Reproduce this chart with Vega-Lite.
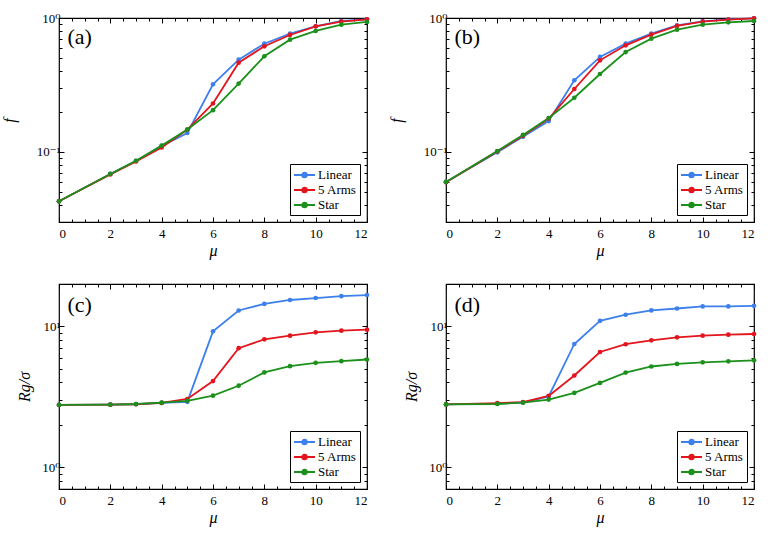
{
  "$schema": "https://vega.github.io/schema/vega-lite/v6.json",
  "padding": {"left": 0, "top": 11, "right": 5, "bottom": 5},
  "background": "white",
  "bounds": "flush",
  "columns": 2,
  "spacing": {"row": 62, "column": 79},
  "datasets": {
    "a": [
      {"mu": 0, "s": "Linear", "v": 0.0428}, {"mu": 2, "s": "Linear", "v": 0.0685}, {"mu": 3, "s": "Linear", "v": 0.0857}, {"mu": 4, "s": "Linear", "v": 0.111}, {"mu": 5, "s": "Linear", "v": 0.1386}, {"mu": 6, "s": "Linear", "v": 0.32}, {"mu": 7, "s": "Linear", "v": 0.489}, {"mu": 8, "s": "Linear", "v": 0.643}, {"mu": 9, "s": "Linear", "v": 0.764}, {"mu": 10, "s": "Linear", "v": 0.867}, {"mu": 11, "s": "Linear", "v": 0.95}, {"mu": 12, "s": "Linear", "v": 0.977},
      {"mu": 0, "s": "5 Arms", "v": 0.0428}, {"mu": 2, "s": "5 Arms", "v": 0.068}, {"mu": 3, "s": "5 Arms", "v": 0.085}, {"mu": 4, "s": "5 Arms", "v": 0.108}, {"mu": 5, "s": "5 Arms", "v": 0.147}, {"mu": 6, "s": "5 Arms", "v": 0.23}, {"mu": 7, "s": "5 Arms", "v": 0.464}, {"mu": 8, "s": "5 Arms", "v": 0.615}, {"mu": 9, "s": "5 Arms", "v": 0.747}, {"mu": 10, "s": "5 Arms", "v": 0.867}, {"mu": 11, "s": "5 Arms", "v": 0.94}, {"mu": 12, "s": "5 Arms", "v": 0.977},
      {"mu": 0, "s": "Star", "v": 0.0428}, {"mu": 2, "s": "Star", "v": 0.0685}, {"mu": 3, "s": "Star", "v": 0.086}, {"mu": 4, "s": "Star", "v": 0.1115}, {"mu": 5, "s": "Star", "v": 0.147}, {"mu": 6, "s": "Star", "v": 0.205}, {"mu": 7, "s": "Star", "v": 0.324}, {"mu": 8, "s": "Star", "v": 0.518}, {"mu": 9, "s": "Star", "v": 0.689}, {"mu": 10, "s": "Star", "v": 0.8}, {"mu": 11, "s": "Star", "v": 0.892}, {"mu": 12, "s": "Star", "v": 0.934}
    ],
    "b": [
      {"mu": 0, "s": "Linear", "v": 0.0597}, {"mu": 2, "s": "Linear", "v": 0.0994}, {"mu": 3, "s": "Linear", "v": 0.13}, {"mu": 4, "s": "Linear", "v": 0.17}, {"mu": 5, "s": "Linear", "v": 0.343}, {"mu": 6, "s": "Linear", "v": 0.512}, {"mu": 7, "s": "Linear", "v": 0.643}, {"mu": 8, "s": "Linear", "v": 0.764}, {"mu": 9, "s": "Linear", "v": 0.882}, {"mu": 10, "s": "Linear", "v": 0.944}, {"mu": 11, "s": "Linear", "v": 0.977}, {"mu": 12, "s": "Linear", "v": 0.994},
      {"mu": 0, "s": "5 Arms", "v": 0.0594}, {"mu": 2, "s": "5 Arms", "v": 0.101}, {"mu": 3, "s": "5 Arms", "v": 0.132}, {"mu": 4, "s": "5 Arms", "v": 0.177}, {"mu": 5, "s": "5 Arms", "v": 0.295}, {"mu": 6, "s": "5 Arms", "v": 0.483}, {"mu": 7, "s": "5 Arms", "v": 0.625}, {"mu": 8, "s": "5 Arms", "v": 0.751}, {"mu": 9, "s": "5 Arms", "v": 0.872}, {"mu": 10, "s": "5 Arms", "v": 0.939}, {"mu": 11, "s": "5 Arms", "v": 0.972}, {"mu": 12, "s": "5 Arms", "v": 0.994},
      {"mu": 0, "s": "Star", "v": 0.0597}, {"mu": 2, "s": "Star", "v": 0.1017}, {"mu": 3, "s": "Star", "v": 0.134}, {"mu": 4, "s": "Star", "v": 0.179}, {"mu": 5, "s": "Star", "v": 0.254}, {"mu": 6, "s": "Star", "v": 0.382}, {"mu": 7, "s": "Star", "v": 0.557}, {"mu": 8, "s": "Star", "v": 0.701}, {"mu": 9, "s": "Star", "v": 0.818}, {"mu": 10, "s": "Star", "v": 0.892}, {"mu": 11, "s": "Star", "v": 0.928}, {"mu": 12, "s": "Star", "v": 0.95}
    ],
    "c": [
      {"mu": 0, "s": "Linear", "v": 2.77}, {"mu": 2, "s": "Linear", "v": 2.78}, {"mu": 3, "s": "Linear", "v": 2.8}, {"mu": 4, "s": "Linear", "v": 2.86}, {"mu": 5, "s": "Linear", "v": 2.91}, {"mu": 6, "s": "Linear", "v": 9.22}, {"mu": 7, "s": "Linear", "v": 12.97}, {"mu": 8, "s": "Linear", "v": 14.45}, {"mu": 9, "s": "Linear", "v": 15.4}, {"mu": 10, "s": "Linear", "v": 15.9}, {"mu": 11, "s": "Linear", "v": 16.4}, {"mu": 12, "s": "Linear", "v": 16.7},
      {"mu": 0, "s": "5 Arms", "v": 2.77}, {"mu": 2, "s": "5 Arms", "v": 2.78}, {"mu": 3, "s": "5 Arms", "v": 2.8}, {"mu": 4, "s": "5 Arms", "v": 2.86}, {"mu": 5, "s": "5 Arms", "v": 3.05}, {"mu": 6, "s": "5 Arms", "v": 4.09}, {"mu": 7, "s": "5 Arms", "v": 7.0}, {"mu": 8, "s": "5 Arms", "v": 8.09}, {"mu": 9, "s": "5 Arms", "v": 8.59}, {"mu": 10, "s": "5 Arms", "v": 9.08}, {"mu": 11, "s": "5 Arms", "v": 9.32}, {"mu": 12, "s": "5 Arms", "v": 9.47},
      {"mu": 0, "s": "Star", "v": 2.77}, {"mu": 2, "s": "Star", "v": 2.78}, {"mu": 3, "s": "Star", "v": 2.81}, {"mu": 4, "s": "Star", "v": 2.87}, {"mu": 5, "s": "Star", "v": 2.96}, {"mu": 6, "s": "Star", "v": 3.22}, {"mu": 7, "s": "Star", "v": 3.79}, {"mu": 8, "s": "Star", "v": 4.71}, {"mu": 9, "s": "Star", "v": 5.22}, {"mu": 10, "s": "Star", "v": 5.51}, {"mu": 11, "s": "Star", "v": 5.66}, {"mu": 12, "s": "Star", "v": 5.82}
    ],
    "d": [
      {"mu": 0, "s": "Linear", "v": 2.79}, {"mu": 2, "s": "Linear", "v": 2.83}, {"mu": 3, "s": "Linear", "v": 2.88}, {"mu": 4, "s": "Linear", "v": 3.18}, {"mu": 5, "s": "Linear", "v": 7.5}, {"mu": 6, "s": "Linear", "v": 10.96}, {"mu": 7, "s": "Linear", "v": 12.1}, {"mu": 8, "s": "Linear", "v": 12.98}, {"mu": 9, "s": "Linear", "v": 13.4}, {"mu": 10, "s": "Linear", "v": 13.85}, {"mu": 11, "s": "Linear", "v": 13.85}, {"mu": 12, "s": "Linear", "v": 14.0},
      {"mu": 0, "s": "5 Arms", "v": 2.79}, {"mu": 2, "s": "5 Arms", "v": 2.85}, {"mu": 3, "s": "5 Arms", "v": 2.9}, {"mu": 4, "s": "5 Arms", "v": 3.21}, {"mu": 5, "s": "5 Arms", "v": 4.48}, {"mu": 6, "s": "5 Arms", "v": 6.58}, {"mu": 7, "s": "5 Arms", "v": 7.47}, {"mu": 8, "s": "5 Arms", "v": 7.96}, {"mu": 9, "s": "5 Arms", "v": 8.36}, {"mu": 10, "s": "5 Arms", "v": 8.59}, {"mu": 11, "s": "5 Arms", "v": 8.73}, {"mu": 12, "s": "5 Arms", "v": 8.83},
      {"mu": 0, "s": "Star", "v": 2.79}, {"mu": 2, "s": "Star", "v": 2.81}, {"mu": 3, "s": "Star", "v": 2.87}, {"mu": 4, "s": "Star", "v": 3.02}, {"mu": 5, "s": "Star", "v": 3.37}, {"mu": 6, "s": "Star", "v": 3.97}, {"mu": 7, "s": "Star", "v": 4.7}, {"mu": 8, "s": "Star", "v": 5.19}, {"mu": 9, "s": "Star", "v": 5.41}, {"mu": 10, "s": "Star", "v": 5.56}, {"mu": 11, "s": "Star", "v": 5.65}, {"mu": 12, "s": "Star", "v": 5.74}
    ]
  },
  "concat": [
    {
      "width": 308, "height": 204,
      "data": {"name": "a"},
      "layer": [
        {"mark": {"type": "line", "strokeWidth": 1.8},
         "encoding": {
           "x": {"field": "mu", "type": "quantitative", "scale": {"domain": [0, 12], "nice": false, "zero": false}, "axis": {"orient": "bottom", "values": [0, 2, 4, 6, 8, 10, 12], "tickSize": -5, "title": "μ", "format": "d", "labelPadding": 10, "titlePadding": 2}},
           "y": {"field": "v", "type": "quantitative", "scale": {"type": "log", "domain": [0.03, 1], "nice": false}, "axis": {"orient": "left", "values": [0.1, 1], "tickSize": -5, "labelExpr": "datum.value == 1 ? '10⁰' : '10⁻¹'", "title": "f", "titleX": -45, "titleBaseline": "alphabetic"}},
           "color": {"field": "s", "type": "nominal", "scale": {"domain": ["Linear", "5 Arms", "Star"], "range": ["#3d80ec", "#e3141b", "#1b901b"]}, "legend": {"title": null}}
         }},
        {"mark": {"type": "point", "filled": true, "size": 22, "opacity": 1},
         "encoding": {"x": {"field": "mu", "type": "quantitative", "axis": null}, "y": {"field": "v", "type": "quantitative", "axis": null}, "color": {"field": "s", "type": "nominal"}}},
        {"data": {"values": [{"lab": "(a)"}]},
         "mark": {"type": "text", "font": "Liberation Serif, DejaVu Serif, serif", "fontSize": 22, "align": "left", "baseline": "alphabetic"},
         "encoding": {"text": {"field": "lab"}, "x": {"datum": 0.33, "type": "quantitative", "axis": null}, "y": {"datum": 0.64, "type": "quantitative", "axis": null}}},
        {"mark": {"type": "point", "opacity": 0},
         "encoding": {"x": {"field": "mu", "type": "quantitative", "axis": {"orient": "bottom", "values": [0.5, 1, 1.5, 2.5, 3, 3.5, 4.5, 5, 5.5, 6.5, 7, 7.5, 8.5, 9, 9.5, 10.5, 11, 11.5], "tickSize": -3, "labels": false, "title": null}},
                      "y": {"field": "v", "type": "quantitative", "axis": {"orient": "left", "values": [0.03, 0.04, 0.05, 0.06, 0.07, 0.08, 0.09, 0.2, 0.3, 0.4, 0.5, 0.6, 0.7, 0.8, 0.9], "tickSize": -3, "labels": false, "title": null}}}},
        {"mark": {"type": "point", "opacity": 0},
         "encoding": {"x": {"field": "mu", "type": "quantitative", "axis": {"orient": "top", "values": [0, 2, 4, 6, 8, 10, 12], "tickSize": -5, "labels": false, "title": null}},
                      "y": {"field": "v", "type": "quantitative", "axis": {"orient": "right", "values": [0.1, 1], "tickSize": -5, "labels": false, "title": null}}}},
        {"mark": {"type": "point", "opacity": 0},
         "encoding": {"x": {"field": "mu", "type": "quantitative", "axis": {"orient": "top", "values": [0.5, 1, 1.5, 2.5, 3, 3.5, 4.5, 5, 5.5, 6.5, 7, 7.5, 8.5, 9, 9.5, 10.5, 11, 11.5], "tickSize": -3, "labels": false, "title": null}},
                      "y": {"field": "v", "type": "quantitative", "axis": {"orient": "right", "values": [0.03, 0.04, 0.05, 0.06, 0.07, 0.08, 0.09, 0.2, 0.3, 0.4, 0.5, 0.6, 0.7, 0.8, 0.9], "tickSize": -3, "labels": false, "title": null}}}}
      ],
      "resolve": {"axis": {"x": "independent", "y": "independent"}}
    },
    {
      "width": 308, "height": 204,
      "data": {"name": "b"},
      "layer": [
        {"mark": {"type": "line", "strokeWidth": 1.8},
         "encoding": {
           "x": {"field": "mu", "type": "quantitative", "scale": {"domain": [0, 12], "nice": false, "zero": false}, "axis": {"orient": "bottom", "values": [0, 2, 4, 6, 8, 10, 12], "tickSize": -5, "title": "μ", "format": "d", "labelPadding": 10, "titlePadding": 2}},
           "y": {"field": "v", "type": "quantitative", "scale": {"type": "log", "domain": [0.03, 1], "nice": false}, "axis": {"orient": "left", "values": [0.1, 1], "tickSize": -5, "labelExpr": "datum.value == 1 ? '10⁰' : '10⁻¹'", "title": "f", "titleX": -45, "titleBaseline": "alphabetic"}},
           "color": {"field": "s", "type": "nominal", "scale": {"domain": ["Linear", "5 Arms", "Star"], "range": ["#3d80ec", "#e3141b", "#1b901b"]}, "legend": {"title": null}}
         }},
        {"mark": {"type": "point", "filled": true, "size": 22, "opacity": 1},
         "encoding": {"x": {"field": "mu", "type": "quantitative", "axis": null}, "y": {"field": "v", "type": "quantitative", "axis": null}, "color": {"field": "s", "type": "nominal"}}},
        {"data": {"values": [{"lab": "(b)"}]},
         "mark": {"type": "text", "font": "Liberation Serif, DejaVu Serif, serif", "fontSize": 22, "align": "left", "baseline": "alphabetic"},
         "encoding": {"text": {"field": "lab"}, "x": {"datum": 0.33, "type": "quantitative", "axis": null}, "y": {"datum": 0.64, "type": "quantitative", "axis": null}}},
        {"mark": {"type": "point", "opacity": 0},
         "encoding": {"x": {"field": "mu", "type": "quantitative", "axis": {"orient": "bottom", "values": [0.5, 1, 1.5, 2.5, 3, 3.5, 4.5, 5, 5.5, 6.5, 7, 7.5, 8.5, 9, 9.5, 10.5, 11, 11.5], "tickSize": -3, "labels": false, "title": null}},
                      "y": {"field": "v", "type": "quantitative", "axis": {"orient": "left", "values": [0.03, 0.04, 0.05, 0.06, 0.07, 0.08, 0.09, 0.2, 0.3, 0.4, 0.5, 0.6, 0.7, 0.8, 0.9], "tickSize": -3, "labels": false, "title": null}}}},
        {"mark": {"type": "point", "opacity": 0},
         "encoding": {"x": {"field": "mu", "type": "quantitative", "axis": {"orient": "top", "values": [0, 2, 4, 6, 8, 10, 12], "tickSize": -5, "labels": false, "title": null}},
                      "y": {"field": "v", "type": "quantitative", "axis": {"orient": "right", "values": [0.1, 1], "tickSize": -5, "labels": false, "title": null}}}},
        {"mark": {"type": "point", "opacity": 0},
         "encoding": {"x": {"field": "mu", "type": "quantitative", "axis": {"orient": "top", "values": [0.5, 1, 1.5, 2.5, 3, 3.5, 4.5, 5, 5.5, 6.5, 7, 7.5, 8.5, 9, 9.5, 10.5, 11, 11.5], "tickSize": -3, "labels": false, "title": null}},
                      "y": {"field": "v", "type": "quantitative", "axis": {"orient": "right", "values": [0.03, 0.04, 0.05, 0.06, 0.07, 0.08, 0.09, 0.2, 0.3, 0.4, 0.5, 0.6, 0.7, 0.8, 0.9], "tickSize": -3, "labels": false, "title": null}}}}
      ],
      "resolve": {"axis": {"x": "independent", "y": "independent"}}
    },
    {
      "width": 308, "height": 205,
      "data": {"name": "c"},
      "layer": [
        {"mark": {"type": "line", "strokeWidth": 1.8},
         "encoding": {
           "x": {"field": "mu", "type": "quantitative", "scale": {"domain": [0, 12], "nice": false, "zero": false}, "axis": {"orient": "bottom", "values": [0, 2, 4, 6, 8, 10, 12], "tickSize": -5, "title": "μ", "format": "d", "labelPadding": 10, "titlePadding": 2}},
           "y": {"field": "v", "type": "quantitative", "scale": {"type": "log", "domain": [0.7, 20], "nice": false}, "axis": {"orient": "left", "values": [1, 10], "tickSize": -5, "labelExpr": "datum.value == 10 ? '10¹' : '10⁰'", "title": "Rg/σ", "titleX": -30, "titleBaseline": "alphabetic"}},
           "color": {"field": "s", "type": "nominal", "scale": {"domain": ["Linear", "5 Arms", "Star"], "range": ["#3d80ec", "#e3141b", "#1b901b"]}, "legend": {"title": null}}
         }},
        {"mark": {"type": "point", "filled": true, "size": 22, "opacity": 1},
         "encoding": {"x": {"field": "mu", "type": "quantitative", "axis": null}, "y": {"field": "v", "type": "quantitative", "axis": null}, "color": {"field": "s", "type": "nominal"}}},
        {"data": {"values": [{"lab": "(c)"}]},
         "mark": {"type": "text", "font": "Liberation Serif, DejaVu Serif, serif", "fontSize": 22, "align": "left", "baseline": "alphabetic"},
         "encoding": {"text": {"field": "lab"}, "x": {"datum": 0.33, "type": "quantitative", "axis": null}, "y": {"datum": 12.6, "type": "quantitative", "axis": null}}},
        {"mark": {"type": "point", "opacity": 0},
         "encoding": {"x": {"field": "mu", "type": "quantitative", "axis": {"orient": "bottom", "values": [0.5, 1, 1.5, 2.5, 3, 3.5, 4.5, 5, 5.5, 6.5, 7, 7.5, 8.5, 9, 9.5, 10.5, 11, 11.5], "tickSize": -3, "labels": false, "title": null}},
                      "y": {"field": "v", "type": "quantitative", "axis": {"orient": "left", "values": [0.8, 0.9, 2, 3, 4, 5, 6, 7, 8, 9, 20], "tickSize": -3, "labels": false, "title": null}}}},
        {"mark": {"type": "point", "opacity": 0},
         "encoding": {"x": {"field": "mu", "type": "quantitative", "axis": {"orient": "top", "values": [0, 2, 4, 6, 8, 10, 12], "tickSize": -5, "labels": false, "title": null}},
                      "y": {"field": "v", "type": "quantitative", "axis": {"orient": "right", "values": [1, 10], "tickSize": -5, "labels": false, "title": null}}}},
        {"mark": {"type": "point", "opacity": 0},
         "encoding": {"x": {"field": "mu", "type": "quantitative", "axis": {"orient": "top", "values": [0.5, 1, 1.5, 2.5, 3, 3.5, 4.5, 5, 5.5, 6.5, 7, 7.5, 8.5, 9, 9.5, 10.5, 11, 11.5], "tickSize": -3, "labels": false, "title": null}},
                      "y": {"field": "v", "type": "quantitative", "axis": {"orient": "right", "values": [0.8, 0.9, 2, 3, 4, 5, 6, 7, 8, 9, 20], "tickSize": -3, "labels": false, "title": null}}}}
      ],
      "resolve": {"axis": {"x": "independent", "y": "independent"}}
    },
    {
      "width": 308, "height": 205,
      "data": {"name": "d"},
      "layer": [
        {"mark": {"type": "line", "strokeWidth": 1.8},
         "encoding": {
           "x": {"field": "mu", "type": "quantitative", "scale": {"domain": [0, 12], "nice": false, "zero": false}, "axis": {"orient": "bottom", "values": [0, 2, 4, 6, 8, 10, 12], "tickSize": -5, "title": "μ", "format": "d", "labelPadding": 10, "titlePadding": 2}},
           "y": {"field": "v", "type": "quantitative", "scale": {"type": "log", "domain": [0.7, 20], "nice": false}, "axis": {"orient": "left", "values": [1, 10], "tickSize": -5, "labelExpr": "datum.value == 10 ? '10¹' : '10⁰'", "title": "Rg/σ", "titleX": -30, "titleBaseline": "alphabetic"}},
           "color": {"field": "s", "type": "nominal", "scale": {"domain": ["Linear", "5 Arms", "Star"], "range": ["#3d80ec", "#e3141b", "#1b901b"]}, "legend": {"title": null}}
         }},
        {"mark": {"type": "point", "filled": true, "size": 22, "opacity": 1},
         "encoding": {"x": {"field": "mu", "type": "quantitative", "axis": null}, "y": {"field": "v", "type": "quantitative", "axis": null}, "color": {"field": "s", "type": "nominal"}}},
        {"data": {"values": [{"lab": "(d)"}]},
         "mark": {"type": "text", "font": "Liberation Serif, DejaVu Serif, serif", "fontSize": 22, "align": "left", "baseline": "alphabetic"},
         "encoding": {"text": {"field": "lab"}, "x": {"datum": 0.33, "type": "quantitative", "axis": null}, "y": {"datum": 12.6, "type": "quantitative", "axis": null}}},
        {"mark": {"type": "point", "opacity": 0},
         "encoding": {"x": {"field": "mu", "type": "quantitative", "axis": {"orient": "bottom", "values": [0.5, 1, 1.5, 2.5, 3, 3.5, 4.5, 5, 5.5, 6.5, 7, 7.5, 8.5, 9, 9.5, 10.5, 11, 11.5], "tickSize": -3, "labels": false, "title": null}},
                      "y": {"field": "v", "type": "quantitative", "axis": {"orient": "left", "values": [0.8, 0.9, 2, 3, 4, 5, 6, 7, 8, 9, 20], "tickSize": -3, "labels": false, "title": null}}}},
        {"mark": {"type": "point", "opacity": 0},
         "encoding": {"x": {"field": "mu", "type": "quantitative", "axis": {"orient": "top", "values": [0, 2, 4, 6, 8, 10, 12], "tickSize": -5, "labels": false, "title": null}},
                      "y": {"field": "v", "type": "quantitative", "axis": {"orient": "right", "values": [1, 10], "tickSize": -5, "labels": false, "title": null}}}},
        {"mark": {"type": "point", "opacity": 0},
         "encoding": {"x": {"field": "mu", "type": "quantitative", "axis": {"orient": "top", "values": [0.5, 1, 1.5, 2.5, 3, 3.5, 4.5, 5, 5.5, 6.5, 7, 7.5, 8.5, 9, 9.5, 10.5, 11, 11.5], "tickSize": -3, "labels": false, "title": null}},
                      "y": {"field": "v", "type": "quantitative", "axis": {"orient": "right", "values": [0.8, 0.9, 2, 3, 4, 5, 6, 7, 8, 9, 20], "tickSize": -3, "labels": false, "title": null}}}}
      ],
      "resolve": {"axis": {"x": "independent", "y": "independent"}}
    }
  ],
  "resolve": {"scale": {"color": "independent"}, "legend": {"color": "independent"}},
  "config": {
    "view": {"stroke": "black", "strokeWidth": 1.2},
    "axis": {"domain": false, "grid": false, "tickColor": "black", "tickWidth": 1, "labelColor": "black", "titleColor": "black", "labelFont": "Liberation Serif, DejaVu Serif, serif", "titleFont": "Liberation Serif, DejaVu Serif, serif", "labelFontSize": 13, "titleFontSize": 16, "titleFontWeight": "normal", "titleFontStyle": "italic", "labelPadding": 4, "titlePadding": 3},
    "legend": {"orient": "bottom-right", "offset": 7, "strokeColor": "black", "fillColor": "white", "padding": 3, "cornerRadius": 0, "labelFont": "Liberation Serif, DejaVu Serif, serif", "labelFontSize": 13, "labelColor": "black", "symbolType": "M-1,0L2,0M0.17,0A0.33,0.33,0,1,0,0.83,0A0.33,0.33,0,1,0,0.17,0Z", "symbolSize": 196, "symbolStrokeWidth": 1.8, "rowPadding": 0, "labelOffset": 9}
  }
}
